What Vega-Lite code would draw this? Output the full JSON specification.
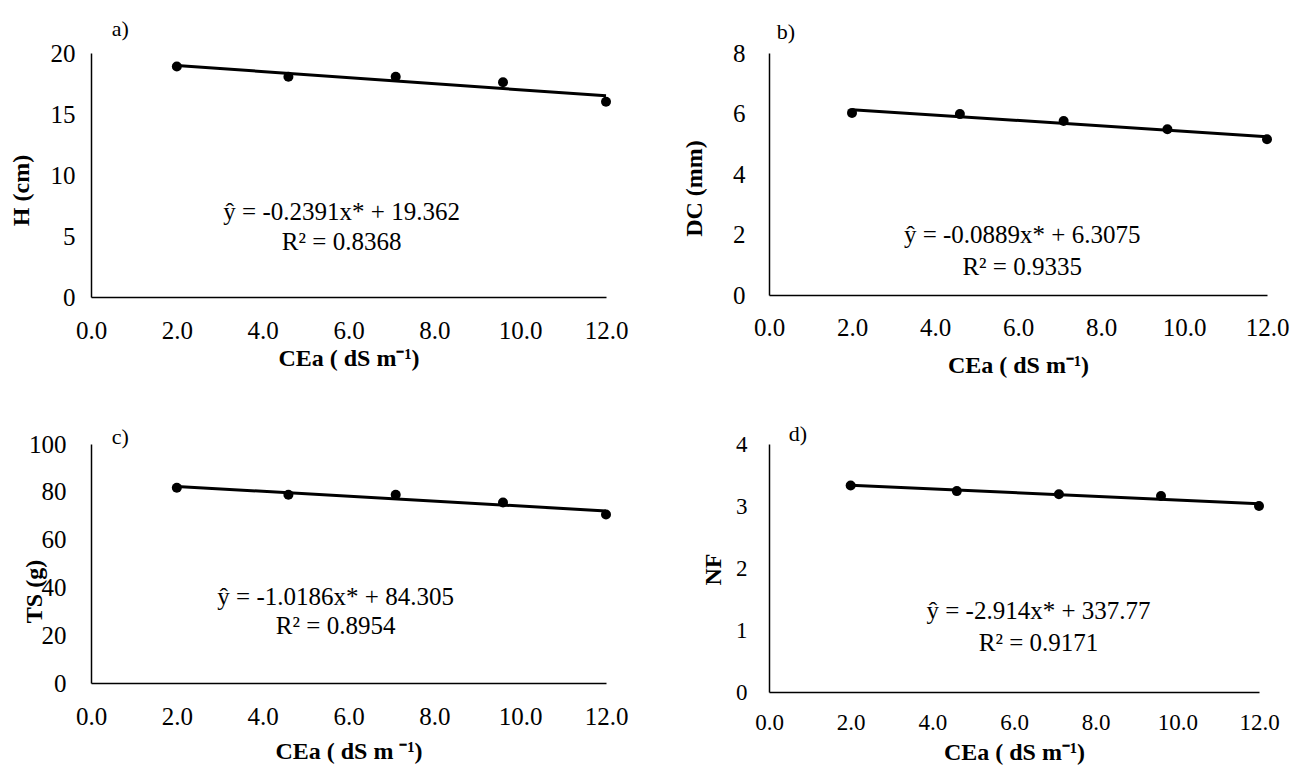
{
  "$schema": "https://vega.github.io/schema/vega-lite/v6.json",
  "background": "white",
  "padding": {"left": 9, "top": 17, "right": 5, "bottom": 2},
  "data": {"values": [
    {"panel": "a", "x": 2.0, "y": 18.9},
    {"panel": "a", "x": 4.6, "y": 18.05},
    {"panel": "a", "x": 7.1, "y": 18.05},
    {"panel": "a", "x": 9.6, "y": 17.6},
    {"panel": "a", "x": 12.0, "y": 16.0},
    {"panel": "b", "x": 2.0, "y": 6.02},
    {"panel": "b", "x": 4.6, "y": 5.98},
    {"panel": "b", "x": 7.1, "y": 5.75},
    {"panel": "b", "x": 9.6, "y": 5.48},
    {"panel": "b", "x": 12.0, "y": 5.15},
    {"panel": "c", "x": 2.0, "y": 81.7},
    {"panel": "c", "x": 4.6, "y": 78.8},
    {"panel": "c", "x": 7.1, "y": 78.8},
    {"panel": "c", "x": 9.6, "y": 75.5},
    {"panel": "c", "x": 12.0, "y": 70.5},
    {"panel": "d", "x": 2.0, "y": 3.33},
    {"panel": "d", "x": 4.6, "y": 3.24},
    {"panel": "d", "x": 7.1, "y": 3.19},
    {"panel": "d", "x": 9.6, "y": 3.16},
    {"panel": "d", "x": 12.0, "y": 3.0}
  ]},
  "columns": 2,
  "bounds": "flush",
  "spacing": {"row": 147, "column": 163},
  "concat": [
    {
      "width": 515, "height": 244,
      "layer": [
        {"transform": [{"filter": "datum.panel === 'a'"}, {"regression": "y", "on": "x", "extent": [2, 12]}],
         "mark": {"type": "line", "color": "black", "strokeWidth": 3},
         "encoding": {
           "x": {"field": "x", "type": "quantitative", "scale": {"domain": [0, 12]},
                 "axis": {"values": [0, 2, 4, 6, 8, 10, 12], "format": ".1f", "title": "CEa ( dS m⁻¹)", "labelPadding": 21, "titleX": 257.5, "titleY": 61, "titleBaseline": "middle"}},
           "y": {"field": "y", "type": "quantitative", "scale": {"domain": [0, 20]},
                 "axis": {"values": [0, 5, 10, 15, 20], "format": "d", "title": "H (cm)", "labelPadding": 16, "titleX": -70, "titleY": 137, "titleBaseline": "middle", "titleAngle": -90}}
         }},
        {"transform": [{"filter": "datum.panel === 'a'"}],
         "mark": {"type": "circle", "color": "black", "size": 100, "opacity": 1},
         "encoding": {"x": {"field": "x", "type": "quantitative"}, "y": {"field": "y", "type": "quantitative"}}},
        {"data": {"values": [{"n": 1}]},
         "mark": {"type": "text", "text": ["ŷ = -0.2391x* + 19.362", "R² = 0.8368"], "fontSize": 25, "lineHeight": 30, "baseline": "middle", "align": "center", "color": "black"},
         "encoding": {"x": {"datum": 5.84, "type": "quantitative"}, "y": {"datum": 7.0, "type": "quantitative"}}},
        {"data": {"values": [{"n": 1}]},
         "mark": {"type": "text", "text": "a)", "fontSize": 22, "baseline": "middle", "align": "center", "color": "black"},
         "encoding": {"x": {"datum": 0.68, "type": "quantitative"}, "y": {"datum": 22.0, "type": "quantitative"}}}
      ]
    },
    {
      "width": 498, "height": 242,
      "layer": [
        {"transform": [{"filter": "datum.panel === 'b'"}, {"regression": "y", "on": "x", "extent": [2, 12]}],
         "mark": {"type": "line", "color": "black", "strokeWidth": 3},
         "encoding": {
           "x": {"field": "x", "type": "quantitative", "scale": {"domain": [0, 12]},
                 "axis": {"values": [0, 2, 4, 6, 8, 10, 12], "format": ".1f", "title": "CEa ( dS m⁻¹)", "labelPadding": 20, "titleX": 249, "titleY": 70, "titleBaseline": "middle"}},
           "y": {"field": "y", "type": "quantitative", "scale": {"domain": [0, 8]},
                 "axis": {"values": [0, 2, 4, 6, 8], "format": "d", "title": "DC (mm)", "labelPadding": 24, "titleX": -75, "titleY": 135, "titleBaseline": "middle", "titleAngle": -90}}
         }},
        {"transform": [{"filter": "datum.panel === 'b'"}],
         "mark": {"type": "circle", "color": "black", "size": 100, "opacity": 1},
         "encoding": {"x": {"field": "x", "type": "quantitative"}, "y": {"field": "y", "type": "quantitative"}}},
        {"data": {"values": [{"n": 1}]},
         "mark": {"type": "text", "text": ["ŷ = -0.0889x* + 6.3075", "R² = 0.9335"], "fontSize": 25, "lineHeight": 32, "baseline": "middle", "align": "center", "color": "black"},
         "encoding": {"x": {"datum": 6.1, "type": "quantitative"}, "y": {"datum": 2.0, "type": "quantitative"}}},
        {"data": {"values": [{"n": 1}]},
         "mark": {"type": "text", "text": "b)", "fontSize": 22, "baseline": "middle", "align": "center", "color": "black"},
         "encoding": {"x": {"datum": 0.41, "type": "quantitative"}, "y": {"datum": 8.7, "type": "quantitative"}}}
      ]
    },
    {
      "width": 515, "height": 239,
      "layer": [
        {"transform": [{"filter": "datum.panel === 'c'"}, {"regression": "y", "on": "x", "extent": [2, 12]}],
         "mark": {"type": "line", "color": "black", "strokeWidth": 3},
         "encoding": {
           "x": {"field": "x", "type": "quantitative", "scale": {"domain": [0, 12]},
                 "axis": {"values": [0, 2, 4, 6, 8, 10, 12], "format": ".1f", "title": "CEa ( dS m ⁻¹)", "labelPadding": 21, "titleX": 257.5, "titleY": 68, "titleBaseline": "middle"}},
           "y": {"field": "y", "type": "quantitative", "scale": {"domain": [0, 100]},
                 "axis": {"values": [0, 20, 40, 60, 80, 100], "format": "d", "title": "TS (g)", "labelPadding": 25, "titleX": -57, "titleY": 147, "titleBaseline": "middle", "titleAngle": -90}}
         }},
        {"transform": [{"filter": "datum.panel === 'c'"}],
         "mark": {"type": "circle", "color": "black", "size": 100, "opacity": 1},
         "encoding": {"x": {"field": "x", "type": "quantitative"}, "y": {"field": "y", "type": "quantitative"}}},
        {"data": {"values": [{"n": 1}]},
         "mark": {"type": "text", "text": ["ŷ = -1.0186x* + 84.305", "R² = 0.8954"], "fontSize": 25, "lineHeight": 29, "baseline": "middle", "align": "center", "color": "black"},
         "encoding": {"x": {"datum": 5.7, "type": "quantitative"}, "y": {"datum": 36.0, "type": "quantitative"}}},
        {"data": {"values": [{"n": 1}]},
         "mark": {"type": "text", "text": "c)", "fontSize": 22, "baseline": "middle", "align": "center", "color": "black"},
         "encoding": {"x": {"datum": 0.68, "type": "quantitative"}, "y": {"datum": 102.9, "type": "quantitative"}}}
      ]
    },
    {
      "width": 490, "height": 248,
      "layer": [
        {"transform": [{"filter": "datum.panel === 'd'"}, {"regression": "y", "on": "x", "extent": [2, 12]}],
         "mark": {"type": "line", "color": "black", "strokeWidth": 3},
         "encoding": {
           "x": {"field": "x", "type": "quantitative", "scale": {"domain": [0, 12]},
                 "axis": {"values": [0, 2, 4, 6, 8, 10, 12], "format": ".1f", "title": "CEa ( dS m⁻¹)", "labelPadding": 19, "labelFontSize": 23, "titleX": 245, "titleY": 60, "titleBaseline": "middle"}},
           "y": {"field": "y", "type": "quantitative", "scale": {"domain": [0, 4]},
                 "axis": {"values": [0, 1, 2, 3, 4], "format": "d", "title": "NF", "labelPadding": 22, "labelFontSize": 23, "titleX": -56, "titleY": 125, "titleBaseline": "middle", "titleAngle": -90}}
         }},
        {"transform": [{"filter": "datum.panel === 'd'"}],
         "mark": {"type": "circle", "color": "black", "size": 100, "opacity": 1},
         "encoding": {"x": {"field": "x", "type": "quantitative"}, "y": {"field": "y", "type": "quantitative"}}},
        {"data": {"values": [{"n": 1}]},
         "mark": {"type": "text", "text": ["ŷ = -2.914x* + 337.77", "R² = 0.9171"], "fontSize": 25, "lineHeight": 32, "baseline": "middle", "align": "center", "color": "black"},
         "encoding": {"x": {"datum": 6.6, "type": "quantitative"}, "y": {"datum": 1.31, "type": "quantitative"}}},
        {"data": {"values": [{"n": 1}]},
         "mark": {"type": "text", "text": "d)", "fontSize": 22, "baseline": "middle", "align": "center", "color": "black"},
         "encoding": {"x": {"datum": 0.71, "type": "quantitative"}, "y": {"datum": 4.16, "type": "quantitative"}}}
      ]
    }
  ],
  "config": {
    "view": {"stroke": null},
    "font": "Liberation Serif",
    "text": {"font": "Liberation Serif"},
    "axis": {
      "grid": false,
      "ticks": false,
      "labelFlush": false,
      "domainColor": "black",
      "domainWidth": 1.5,
      "labelColor": "black",
      "titleColor": "black",
      "labelFont": "Liberation Serif",
      "titleFont": "Liberation Serif",
      "labelFontSize": 25,
      "titleFontSize": 24,
      "titleFontWeight": "bold"
    }
  }
}
